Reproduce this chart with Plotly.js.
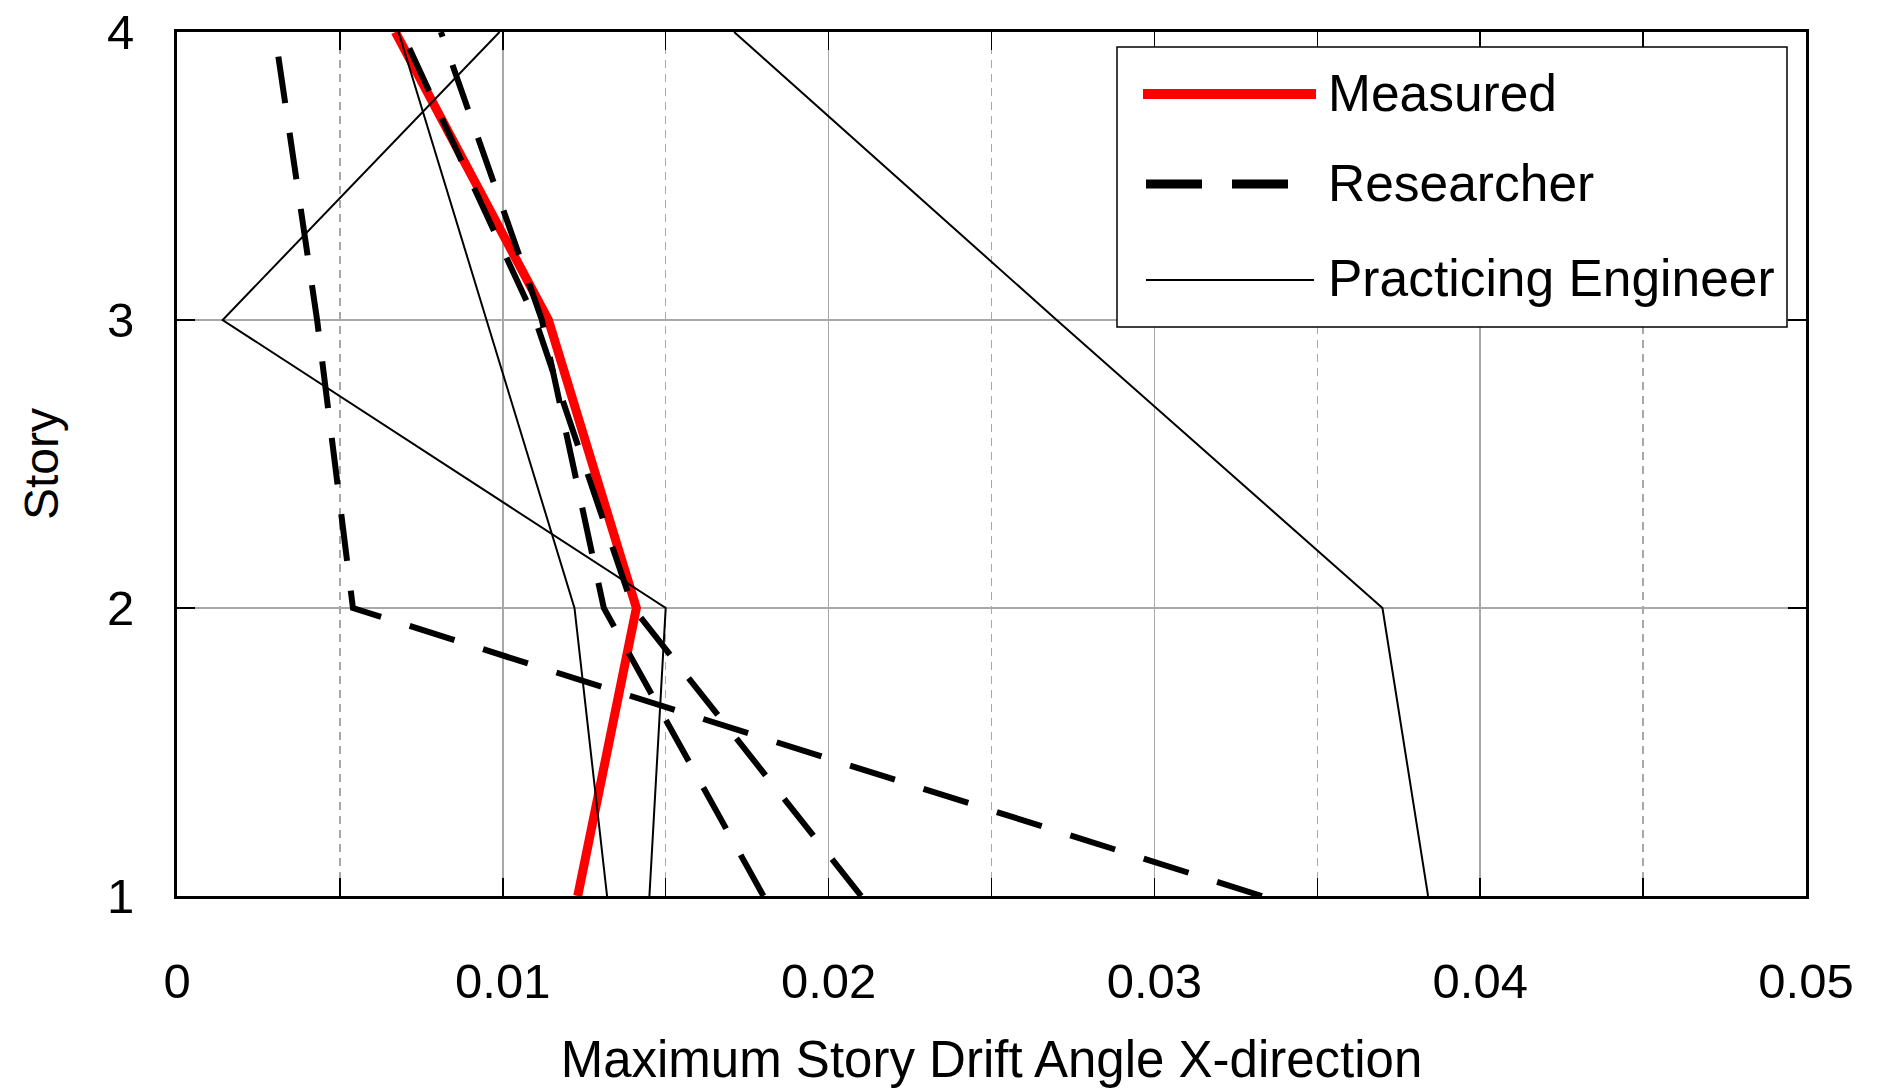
<!DOCTYPE html>
<html><head><meta charset="utf-8">
<script src="https://cdn.plot.ly/plotly-3.0.1.min.js"></script>
<style>html,body{margin:0;padding:0;background:#fff;} #chart{width:1879px;height:1091px;}</style>
</head><body><div id="chart"></div>
<script>
// ---- data ----
const stories = [1, 2, 3, 4];
const measured = [0.0123, 0.0141, 0.0114, 0.0067];
const researcher1 = [0.0333, 0.0054, 0.0043, 0.0030];
const researcher2 = [0.0180, 0.0131, 0.0112, 0.0081];
const researcher3 = [0.0210, 0.0140, 0.0110, 0.0069];
const engineer1 = [0.0132, 0.0122, 0.0095, 0.0068];
const engineer2 = [0.0145, 0.0150, 0.0014, 0.0099];
const engineer3 = [0.0384, 0.0370, 0.0270, 0.0171];
const xTicks = [0, 0.01, 0.02, 0.03, 0.04, 0.05];
const xTickText = ['0', '0.01', '0.02', '0.03', '0.04', '0.05'];
const yTicks = [1, 2, 3, 4];
const yTickText = ['1', '2', '3', '4'];
const seriesNames = ['Measured', 'Researcher', 'Practicing Engineer'];
const xTitle = 'Maximum Story Drift Angle X-direction';
const yTitle = 'Story';

// ---- styles ----
const FONT = 'Liberation Sans, Arial, sans-serif';
const DASH = '47px,30px';
const redStyle = {color: '#ff0000', width: 9};
const dashStyle = {color: '#000000', width: 6, dash: DASH};
const thinStyle = {color: '#000000', width: 2};

function tr(xs, name, line) {
  return {type: 'scatter', mode: 'lines', x: xs, y: stories, name: name,
          line: line, showlegend: false, hoverinfo: 'skip'};
}
const traces = [
  tr(measured, seriesNames[0], redStyle),
  tr(researcher1, seriesNames[1], dashStyle),
  tr(researcher2, seriesNames[1], dashStyle),
  tr(researcher3, seriesNames[1], dashStyle),
  tr(engineer1, seriesNames[2], thinStyle),
  tr(engineer2, seriesNames[2], thinStyle),
  tr(engineer3, seriesNames[2], thinStyle)
];

// plot area in pixels
const L = 177, T = 32, W = 1629, H = 864;
const PX = x => (x - L) / W;
const PY = y => (T + H - y) / H;

const shapes = [
  {type: 'rect', xref: 'paper', yref: 'paper', x0: PX(1117), x1: PX(1787), y0: PY(327), y1: PY(47),
   line: {color: '#000', width: 1.5}, fillcolor: '#ffffff', layer: 'above'},
  {type: 'line', xref: 'paper', yref: 'paper', x0: PX(1143), x1: PX(1316), y0: PY(94), y1: PY(94),
   line: {color: '#ff0000', width: 10}, layer: 'above'},
  {type: 'line', xref: 'paper', yref: 'paper', x0: PX(1146), x1: PX(1288), y0: PY(184), y1: PY(184),
   line: {color: '#000', width: 9, dash: '56px,30px'}, layer: 'above'},
  {type: 'line', xref: 'paper', yref: 'paper', x0: PX(1146), x1: PX(1314), y0: PY(280), y1: PY(280),
   line: {color: '#000', width: 2}, layer: 'above'}
];
const legendY = [93, 183, 278];
const annotations = seriesNames.map((n, i) => ({
  xref: 'paper', yref: 'paper', x: PX(1326), y: PY(legendY[i]), xanchor: 'left', yanchor: 'middle',
  text: n, showarrow: false, font: {family: FONT, size: 51.5, color: '#000'}
}));

const axisCommon = {
  showline: true, linecolor: '#000', linewidth: 3, mirror: 'ticks',
  ticks: 'inside', ticklen: 18, tickwidth: 1.5, tickcolor: '#000',
  showgrid: true, gridcolor: '#a8a8a8', gridwidth: 1.5, zeroline: false,
  tickfont: {family: FONT, size: 49, color: '#000'}
};

const layout = {
  width: 1879, height: 1091,
  margin: {l: L, r: 1879 - L - W, t: T, b: 1091 - T - H},
  paper_bgcolor: '#fff', plot_bgcolor: '#fff',
  font: {family: FONT, color: '#000'},
  showlegend: false,
  xaxis: Object.assign({}, axisCommon, {
    range: [0, 0.05], tickmode: 'array', tickvals: xTicks, ticktext: xTickText,
    ticklabelstandoff: 40,
    minor: {dtick: 0.005, showgrid: true, griddash: '8px,6px', gridcolor: '#a8a8a8', gridwidth: 1.3,
            ticks: 'inside', ticklen: 18, tickwidth: 1.5, tickcolor: '#000'},
    title: {text: xTitle, font: {family: FONT, size: 51, color: '#000'}, standoff: 35}
  }),
  yaxis: Object.assign({}, axisCommon, {
    range: [1, 4], tickmode: 'array', tickvals: yTicks, ticktext: yTickText,
    ticklabelstandoff: 30,
    title: {text: yTitle, font: {family: FONT, size: 48, color: '#000'}, standoff: 34}
  }),
  shapes: shapes,
  annotations: annotations
};

Plotly.newPlot('chart', traces, layout, {staticPlot: true, displayModeBar: false});
</script>
</body></html>
